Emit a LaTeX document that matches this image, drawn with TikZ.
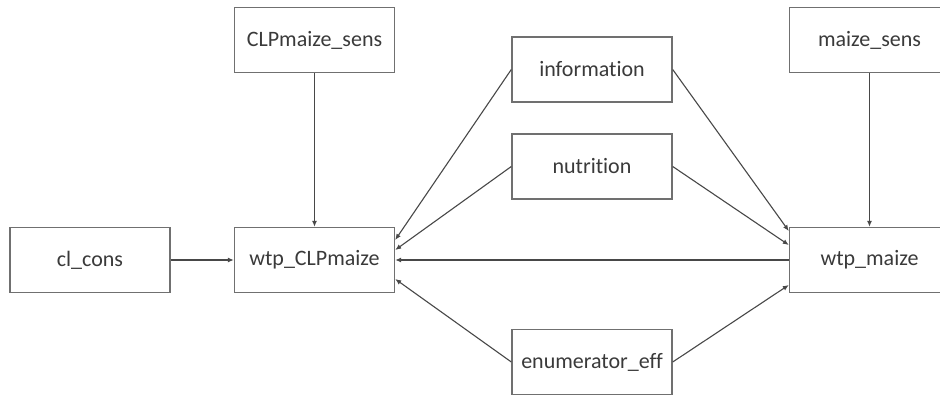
\documentclass[tikz,border=0pt]{standalone}
\usepackage{fontspec}
\setmainfont{Carlito}[Ligatures=NoCommon]
\usetikzlibrary{arrows.meta}
\definecolor{boxline}{HTML}{707070}
\definecolor{conline}{HTML}{484848}
\definecolor{txt}{HTML}{3A3A3A}
\begin{document}
\begin{tikzpicture}[x=1pt,y=-1pt,
  varbox/.style={draw=boxline, line width=1.4pt, fill=white, minimum width=160pt, minimum height=65pt, inner sep=0pt, text=txt, font=\fontsize{22}{26}\selectfont},
  conn/.style={draw=conline, line width=1.1pt, -{Latex[length=6pt,width=5pt]}}]
\useasboundingbox (0,0) rectangle (940,395);
\clip (0,0) rectangle (940,395);
\fill[white] (0,0) rectangle (940,395);
\node[varbox] (clpsens) at (314.5,40) {CLPmaize\_sens};
\node[varbox] (clcons) at (90,260) {cl\_cons};
\node[varbox] (wclp) at (314.5,260) {wtp\_CLPmaize};
\node[varbox] (info) at (592,69.5) {information};
\node[varbox] (nutr) at (592,166.5) {nutrition};
\node[varbox] (enum) at (592,362) {enumerator\_eff};
\node[varbox] (msens) at (869.5,40) {maize\_sens};
\node[varbox] (wmaize) at (869.5,260) {wtp\_maize};

\draw[conn] (clpsens.south) -- (wclp.north);
\draw[conn] (msens.south) -- (wmaize.north);
\draw[conn] (clcons.east) -- (wclp.west);
\draw[conn] (wmaize.west) -- (wclp.east);
\draw[conn] (info.west) -- ([yshift=20pt]wclp.east);
\draw[conn] (nutr.west) -- ([yshift=10pt]wclp.east);
\draw[conn] (enum.west) -- ([yshift=-19pt]wclp.east);
\draw[conn] (info.east) -- ([yshift=29pt]wmaize.west);
\draw[conn] (nutr.east) -- ([yshift=15pt]wmaize.west);
\draw[conn] (enum.east) -- ([yshift=-25pt]wmaize.west);
\end{tikzpicture}
\end{document}
